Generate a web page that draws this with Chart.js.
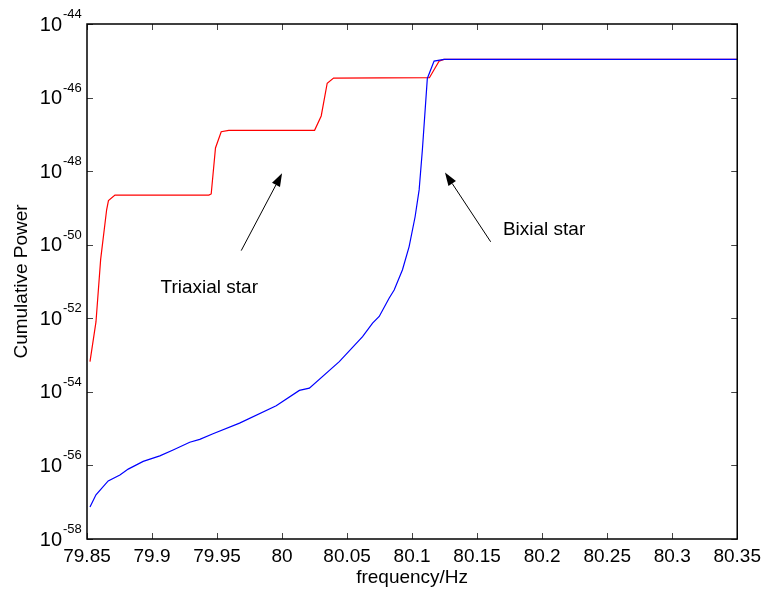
<!DOCTYPE html>
<html>
<head>
<meta charset="utf-8">
<script src="https://cdn.jsdelivr.net/npm/chart.js@4.4.1/dist/chart.umd.min.js"></script>
<style>
html, body { margin: 0; padding: 0; background: #fff; }
#wrap { width: 767px; height: 596px; }
</style>
</head>
<body>
<div id="wrap"><canvas id="powerChart" width="767" height="596"></canvas></div>
<script>
(function () {
	'use strict';

	// frequency (Hz) and log10 of cumulative power for each star model
	var triaxialFreq = [79.8523, 79.8569, 79.8605, 79.8651, 79.8665, 79.8715, 79.9437, 79.9455, 79.9488, 79.9532, 79.9590,
		80.0250, 80.0301, 80.0347, 80.0396, 80.1133, 80.1207, 80.1245, 80.35];
	var triaxialLog10 = [-53.18, -52.10, -50.40, -49.05, -48.80, -48.65, -48.65, -48.62, -47.37, -46.93, -46.89,
		-46.89, -46.50, -45.61, -45.47, -45.46, -45.01, -44.96, -44.96];

	var bixialFreq = [79.8523, 79.8569, 79.8663, 79.8753, 79.8817, 79.8932, 79.9060, 79.9162, 79.9290, 79.9367, 79.9469,
		79.9673, 79.9955, 80.0133, 80.0210, 80.0440, 80.0619, 80.0696, 80.0747, 80.0824, 80.0862, 80.0926,
		80.0977, 80.1023, 80.1054, 80.1079, 80.1117, 80.1169, 80.1245, 80.35];
	var bixialLog10 = [-57.13, -56.80, -56.42, -56.26, -56.10, -55.89, -55.74, -55.58, -55.37, -55.29, -55.14,
		-54.85, -54.38, -53.96, -53.90, -53.18, -52.50, -52.13, -51.95, -51.45, -51.23, -50.68,
		-50.05, -49.24, -48.51, -47.42, -45.48, -45.01, -44.96, -44.96];

	var yTickExps = [-44, -46, -48, -50, -52, -54, -56, -58];

	// arrow tail/tip and label anchors in data units (freq, log10 power)
	var notes = [
		{ text: 'Triaxial star', at: [79.9065, -51.31], tail: [79.9686, -50.16], tip: [80.0000, -48.06] },
		{ text: 'Bixial star', at: [80.1698, -49.73], tail: [80.1604, -49.92], tip: [80.1253, -48.04] }
	];

	var FONT = "'Liberation Sans', Arial, Helvetica, sans-serif";
	Chart.defaults.font.family = FONT;
	Chart.defaults.color = '#000';

	function toPoints(xs, logs) {
		return xs.map(function (x, i) { return { x: x, y: Math.pow(10, logs[i]) }; });
	}

	function drawArrow(ctx, x1, y1, x2, y2) {
		var ang = Math.atan2(y2 - y1, x2 - x1);
		var len = 13, half = 4.5;
		var bx = x2 - len * Math.cos(ang), by = y2 - len * Math.sin(ang);
		ctx.beginPath();
		ctx.moveTo(x1, y1);
		ctx.lineTo(bx, by);
		ctx.stroke();
		ctx.beginPath();
		ctx.moveTo(x2, y2);
		ctx.lineTo(bx + half * Math.sin(ang), by - half * Math.cos(ang));
		ctx.lineTo(bx - half * Math.sin(ang), by + half * Math.cos(ang));
		ctx.closePath();
		ctx.fill();
	}

	var framePlugin = {
		id: 'frame',
		afterDraw: function (chart) {
			var ctx = chart.ctx, a = chart.chartArea;
			var xs = chart.scales.x, ys = chart.scales.y;
			var tick = 6;
			ctx.save();

			// inward tick marks on all four sides
			ctx.strokeStyle = '#444';
			ctx.lineWidth = 1;
			ctx.beginPath();
			xs.ticks.forEach(function (t) {
				var px = Math.round(xs.getPixelForValue(t.value)) + 0.5;
				ctx.moveTo(px, a.bottom); ctx.lineTo(px, a.bottom - tick);
				ctx.moveTo(px, a.top); ctx.lineTo(px, a.top + tick);
			});
			yTickExps.forEach(function (e) {
				var py = Math.round(ys.getPixelForValue(Math.pow(10, e))) + 0.5;
				ctx.moveTo(a.left, py); ctx.lineTo(a.left + tick, py);
				ctx.moveTo(a.right, py); ctx.lineTo(a.right - tick, py);
			});
			ctx.stroke();

			ctx.strokeStyle = '#000';
			ctx.lineWidth = 1.5;
			ctx.strokeRect(a.left, a.top, a.right - a.left, a.bottom - a.top);

			// y tick labels as 10 with a raised exponent
			ctx.fillStyle = '#000';
			yTickExps.forEach(function (e) {
				var py = ys.getPixelForValue(Math.pow(10, e));
				ctx.font = '20px ' + FONT;
				ctx.textAlign = 'right';
				ctx.textBaseline = 'middle';
				ctx.fillText('10', a.left - 25, py + 1);
				ctx.font = '13px ' + FONT;
				ctx.textAlign = 'left';
				ctx.textBaseline = 'alphabetic';
				ctx.fillText(String(e), a.left - 24, py - 6);
			});

			// annotations
			ctx.strokeStyle = '#000';
			ctx.lineWidth = 1;
			notes.forEach(function (n) {
				drawArrow(ctx,
					xs.getPixelForValue(n.tail[0]), ys.getPixelForValue(Math.pow(10, n.tail[1])),
					xs.getPixelForValue(n.tip[0]), ys.getPixelForValue(Math.pow(10, n.tip[1])));
				ctx.font = '19px ' + FONT;
				ctx.textAlign = 'left';
				ctx.textBaseline = 'alphabetic';
				ctx.fillText(n.text, xs.getPixelForValue(n.at[0]), ys.getPixelForValue(Math.pow(10, n.at[1])));
			});
			ctx.restore();
		}
	};

	new Chart(document.getElementById('powerChart'), {
		type: 'line',
		data: {
			datasets: [{
				label: 'Bixial star',
				data: toPoints(bixialFreq, bixialLog10),
				borderColor: '#0000ff',
				borderWidth: 1.2,
				pointRadius: 0,
				tension: 0,
				order: 0
			}, {
				label: 'Triaxial star',
				data: toPoints(triaxialFreq, triaxialLog10),
				borderColor: '#ff0000',
				borderWidth: 1.2,
				pointRadius: 0,
				tension: 0,
				order: 1
			}]
		},
		options: {
			responsive: false,
			animation: false,
			layout: { padding: { left: 0, right: 28, top: 24, bottom: 0 } },
			plugins: { legend: { display: false }, tooltip: { enabled: false } },
			scales: {
				x: {
					type: 'linear',
					min: 79.85,
					max: 80.35,
					grid: { display: false, drawTicks: false },
					border: { display: false },
					ticks: {
						stepSize: 0.05,
						padding: 6,
						maxRotation: 0,
						font: { size: 19 },
						color: '#000',
						callback: function (v) { return String(parseFloat(Number(v).toFixed(2))); }
					},
					title: { display: true, text: 'frequency/Hz', font: { size: 19 }, color: '#000', padding: { top: 0, bottom: 7 } },
					afterFit: function (s) { s.height = 57; }
				},
				y: {
					type: 'logarithmic',
					min: 1e-58,
					max: 1e-44,
					grid: { display: false, drawTicks: false },
					border: { display: false },
					ticks: { display: false },
					afterBuildTicks: function (s) {
						s.ticks = yTickExps.map(function (e) { return { value: Math.pow(10, e) }; });
					},
					title: { display: true, text: 'Cumulative Power', font: { size: 19 }, color: '#000', padding: { top: 10, bottom: 0 } },
					afterFit: function (s) { s.width = 87; }
				}
			}
		},
		plugins: [framePlugin]
	});
})();
</script>
</body>
</html>
